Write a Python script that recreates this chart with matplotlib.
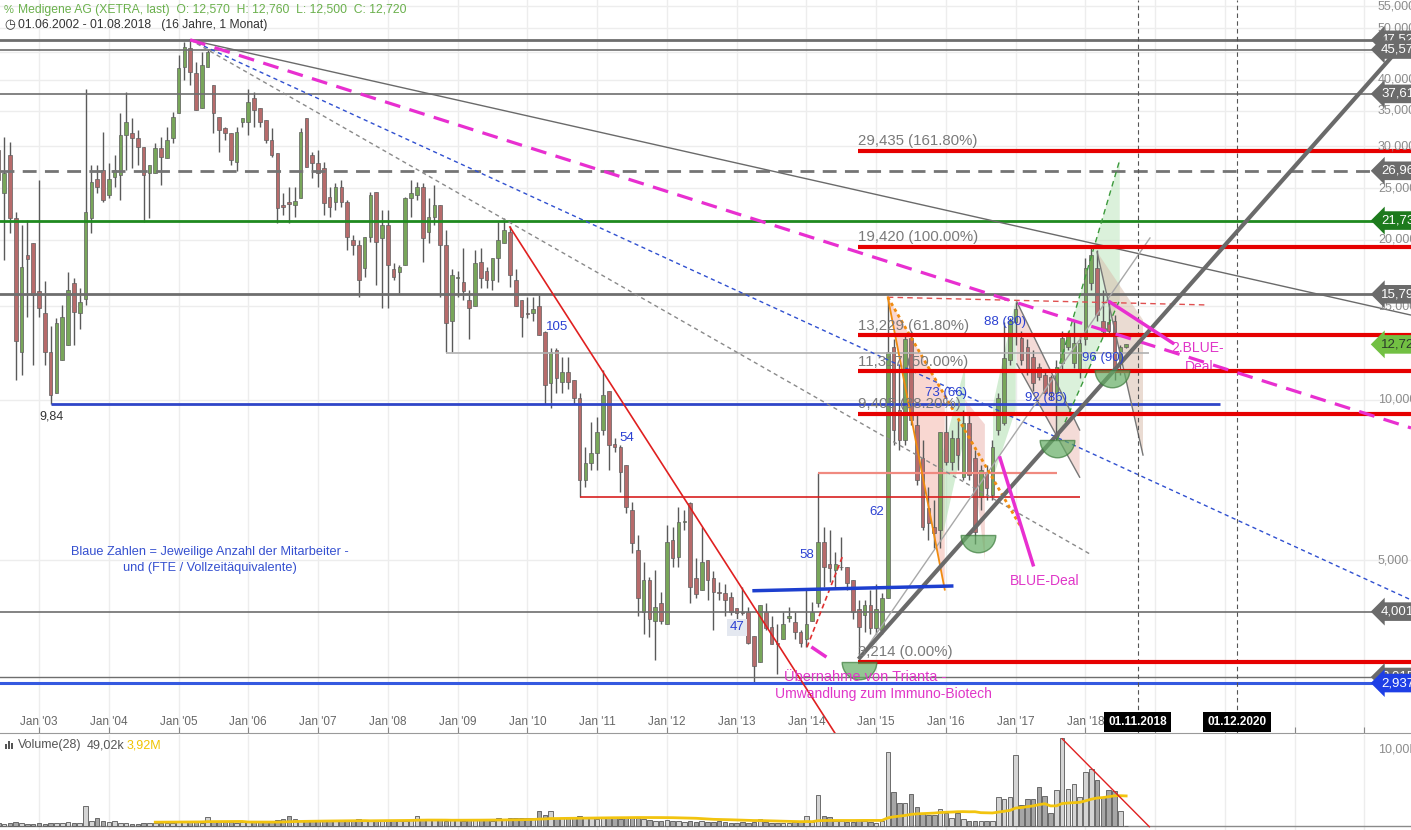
#!/usr/bin/env python3
"""
Medigene AG (XETRA) monthly candles Jun 2002 - Aug 2018 with trend lines,
Fibonacci levels, annotations and a volume panel. Saves out.png.
"""

import numpy as np
import pandas as pd
import matplotlib
matplotlib.use("Agg")
import matplotlib.pyplot as plt
import matplotlib.transforms as mtransforms
from matplotlib.path import Path
from matplotlib.patches import Polygon, Rectangle

plt.rcParams["font.family"] = ["Liberation Sans", "DejaVu Sans"]

# -------------------------
# Data (monthly bars, index 0 = Jun 2002, 194 = Aug 2018)
# -------------------------
opens = [
    29.5, 24.5, 28.9, 22.0, 12.3, 18.7, 19.7, 16.0, 14.6, 12.3,
    10.3, 11.9, 12.7, 16.6, 14.6, 15.5, 22.0, 26.0, 27.1, 24.3,
    26.3, 26.5, 31.5, 31.8, 31.1, 29.9, 26.7, 26.7, 29.8, 28.5,
    31.1, 34.65, 42.3, 45.9, 41.2, 35.4, 42.3, 39.05, 34.05, 32.5,
    31.8, 28.05, 33.3, 33.3, 36.9, 35.4, 33.6, 30.8, 29.1, 23.3,
    23.6, 23.3, 24.0, 33.9, 28.9, 27.9, 27.3, 24.1, 23.6, 25.1,
    23.6, 20.0, 19.55, 17.7, 20.25, 24.6, 20.2, 21.35, 17.6, 17.4,
    17.95, 24.0, 24.3, 25.1, 20.7, 22.1, 23.3, 19.55, 14.1, 16.95,
    16.65, 15.4, 15.0, 18.15, 17.45, 16.8, 18.45, 19.7, 20.7, 16.8,
    15.4, 14.6, 14.6, 15.0, 13.4, 10.75, 12.4, 10.8, 11.3, 10.9,
    10.1, 7.07, 7.6, 7.95, 8.78, 10.4, 8.26, 8.15, 7.55, 6.21,
    5.23, 3.99, 4.59, 3.84, 4.16, 3.79, 5.46, 5.07, 5.9, 6.41,
    4.63, 4.4, 5.01, 4.63, 4.36, 4.34, 4.26, 4.07, 4.0, 4.0,
    3.6, 3.22, 3.99, 3.75, 3.5, 3.55, 3.9, 3.82, 3.66, 3.55,
    3.84, 4.16, 5.41, 4.91, 4.8, 4.86, 4.86, 4.59, 4.04, 3.95,
    4.12, 3.73, 3.7, 4.25, 12.6, 9.58, 8.41, 13.1, 8.98, 7.78,
    6.27, 5.78, 5.7, 8.7, 7.65, 8.48, 7.16, 9.05, 7.78, 6.56,
    7.32, 6.62, 8.78, 9.05, 11.9, 14.0, 13.1, 12.6, 12.05, 11.55,
    11.15, 11.05, 10.3, 11.75, 12.6, 11.75, 11.4, 13.0, 16.6, 17.7,
    14.1, 14.0, 14.1, 11.8, 12.57,
]
highs = [
    38.7, 31.2, 30.5, 22.6, 21.3, 21.8, 19.7, 25.9, 16.7, 13.8,
    14.25, 15.1, 17.4, 16.95, 16.25, 38.4, 27.7, 27.7, 31.9, 27.9,
    28.9, 34.65, 37.9, 33.9, 32.2, 29.9, 27.7, 30.4, 31.2, 32.6,
    34.8, 44.55, 47.1, 47.53, 43.2, 45.1, 45.5, 39.05, 34.05, 32.6,
    31.8, 32.6, 33.9, 38.4, 37.9, 35.4, 33.6, 32.5, 29.1, 24.5,
    25.1, 25.1, 32.5, 33.9, 29.3, 29.5, 28.05, 25.1, 25.55, 25.9,
    23.8, 20.45, 20.0, 20.25, 24.6, 24.6, 22.8, 22.8, 18.1, 17.95,
    24.1, 25.9, 25.7, 25.55, 24.0, 25.35, 23.3, 20.9, 17.6, 17.45,
    19.3, 16.1, 19.1, 19.3, 17.75, 18.45, 21.6, 22.0, 21.2, 17.6,
    15.4, 15.6, 15.6, 15.75, 13.5, 12.5, 12.5, 12.05, 12.05, 10.9,
    10.3, 8.15, 9.1, 9.3, 11.4, 10.4, 8.48, 8.23, 7.55, 6.43,
    5.58, 4.97, 4.65, 4.8, 4.36, 5.83, 5.78, 6.29, 6.21, 6.43,
    5.05, 5.78, 5.01, 4.76, 4.55, 4.5, 4.36, 4.07, 4.46, 4.09,
    3.6, 4.12, 4.16, 3.92, 3.79, 3.99, 4.09, 3.99, 3.7, 4.4,
    4.18, 7.28, 5.78, 5.7, 5.18, 5.53, 4.86, 4.59, 4.21, 4.21,
    4.4, 4.5, 4.34, 15.6, 13.0, 11.65, 13.25, 13.5, 9.38, 8.41,
    6.86, 6.49, 8.7, 9.38, 8.78, 9.17, 9.58, 9.38, 8.05, 7.55,
    7.55, 8.41, 10.3, 14.0, 14.25, 15.3, 13.5, 13.0, 12.4, 11.75,
    11.4, 11.15, 11.9, 13.5, 13.5, 14.1, 13.25, 18.5, 19.42, 19.1,
    16.1, 15.3, 14.45, 12.7, 12.76,
]
lows = [
    18.3, 18.3, 20.6, 10.9, 11.15, 14.3, 11.65, 14.3, 11.65, 9.84,
    10.3, 11.9, 12.7, 12.7, 13.6, 15.1, 20.6, 24.5, 23.6, 24.0,
    25.1, 23.8, 27.1, 27.3, 27.7, 21.6, 22.0, 26.7, 25.35, 28.5,
    30.4, 34.65, 39.9, 39.05, 35.1, 35.4, 42.3, 31.8, 29.3, 30.8,
    27.7, 26.9, 32.6, 31.5, 32.6, 32.6, 30.4, 28.65, 21.55, 22.3,
    21.55, 22.1, 24.0, 27.45, 26.1, 25.1, 22.3, 22.1, 22.8, 23.1,
    19.1, 18.7, 15.6, 17.05, 19.8, 16.45, 14.9, 14.9, 16.8, 15.9,
    17.95, 22.1, 23.8, 18.15, 19.7, 21.35, 15.6, 12.3, 12.3, 15.6,
    15.4, 13.0, 15.0, 16.25, 16.25, 16.1, 16.65, 19.7, 16.3, 15.0,
    13.15, 14.25, 14.1, 13.25, 9.84, 9.65, 10.3, 10.3, 10.5, 9.84,
    6.56, 6.86, 7.38, 7.38, 8.6, 7.38, 7.98, 6.71, 6.13, 5.16,
    3.92, 3.63, 3.59, 3.25, 3.79, 3.79, 4.86, 4.86, 5.7, 4.16,
    4.25, 4.4, 4.21, 3.7, 4.21, 3.92, 3.95, 3.87, 3.95, 3.48,
    2.937, 3.22, 3.7, 3.48, 3.06, 3.55, 3.82, 3.55, 3.44, 3.44,
    3.84, 4.09, 4.46, 4.55, 4.46, 4.8, 4.4, 3.87, 3.214, 3.66,
    3.63, 3.63, 3.63, 4.25, 8.23, 8.05, 8.23, 8.98, 6.92, 5.7,
    5.46, 5.27, 5.27, 7.55, 7.38, 7.38, 7.07, 7.07, 5.35, 6.21,
    6.49, 6.49, 8.6, 8.98, 11.65, 12.7, 11.65, 11.15, 10.4, 10.9,
    10.2, 10.0, 8.41, 11.4, 12.4, 11.5, 11.0, 12.7, 16.1, 14.1,
    13.25, 13.25, 10.9, 11.15, 12.50,
]
closes = [
    25.9, 26.7, 22.0, 12.9, 17.8, 18.4, 15.75, 14.9, 12.3, 10.2,
    13.95, 14.3, 16.1, 14.65, 15.3, 22.6, 25.7, 25.1, 23.8, 26.0,
    27.1, 31.5, 33.3, 31.1, 29.9, 26.5, 27.7, 29.8, 28.65, 30.8,
    34.05, 42.1, 46.1, 41.3, 35.1, 42.65, 45.1, 34.65, 32.2, 31.8,
    28.3, 31.9, 33.9, 36.3, 35.1, 33.3, 30.8, 28.9, 23.0, 23.1,
    23.4, 23.7, 31.9, 27.45, 27.9, 26.7, 23.5, 23.1, 25.1, 23.6,
    20.25, 19.55, 16.8, 20.25, 24.3, 19.8, 21.35, 17.95, 17.05, 17.75,
    24.0, 24.5, 25.1, 20.2, 22.1, 23.3, 19.55, 13.95, 17.2, 17.05,
    16.0, 14.9, 18.1, 16.95, 16.8, 18.45, 20.0, 20.9, 17.2, 15.0,
    14.3, 14.5, 14.8, 13.25, 10.65, 12.3, 11.0, 11.3, 10.8, 10.1,
    7.07, 7.6, 7.95, 8.7, 10.2, 8.23, 8.15, 7.32, 6.29, 5.39,
    4.25, 4.59, 3.87, 4.09, 3.84, 5.41, 5.05, 5.9, 5.92, 4.46,
    4.31, 4.97, 4.59, 4.36, 4.34, 4.21, 4.0, 3.98, 3.98, 3.5,
    3.16, 4.12, 3.73, 3.48, 3.48, 3.79, 3.92, 3.66, 3.5, 3.79,
    4.0, 5.41, 4.86, 4.84, 4.91, 4.86, 4.53, 4.0, 3.75, 4.12,
    3.73, 4.04, 4.25, 12.3, 8.78, 8.41, 13.0, 9.17, 7.07, 5.78,
    5.88, 5.63, 8.7, 7.65, 8.48, 7.88, 9.05, 7.22, 5.65, 7.38,
    6.83, 8.15, 10.1, 12.0, 14.1, 14.8, 11.9, 11.4, 10.75, 11.05,
    10.3, 10.3, 11.55, 13.1, 13.25, 12.8, 12.8, 17.7, 18.7, 14.45,
    13.5, 13.5, 11.3, 12.55, 12.72,
]
# monthly volume in millions
volumes = [
    0.4, 0.3, 0.35, 0.5, 0.45, 0.3, 0.3, 0.35, 0.3, 0.45, 0.4, 0.35, 0.5, 0.35, 0.4,
    2.6,
    0.6, 1.0, 0.6, 0.5, 0.7, 0.4, 0.35, 0.3, 0.3, 0.35, 0.4, 0.35, 0.45, 0.4,
    0.45, 0.55, 0.6, 0.55, 0.5, 0.45, 1.2, 0.6, 0.5, 0.55, 0.5, 0.45, 0.5, 0.6, 0.5, 0.55, 0.6, 0.7, 0.8, 0.9,
    1.3, 0.9, 0.7, 0.8, 0.7, 0.6, 0.7, 0.65, 0.6, 0.7, 0.8, 0.75, 0.9, 0.7, 0.6, 0.7, 0.75, 0.8, 0.7, 0.65,
    0.7, 0.75, 1.3, 0.9, 0.8, 0.75, 0.8, 0.7, 0.8, 0.9, 0.7, 0.75, 0.9, 0.85, 0.75, 0.7, 1.0, 0.85, 1.1, 1.1,
    1.1, 1.1, 1.1, 2.0, 1.5, 2.0, 1.0, 1.1, 1.0, 1.2, 1.3, 1.1, 1.0, 0.9, 1.2, 1.0, 1.1, 0.9, 1.0, 1.2,
    1.0, 0.9, 0.8, 0.7, 0.7, 0.8, 0.7, 0.6, 0.5, 0.7, 0.5, 0.6, 0.5, 0.5, 0.6, 0.5, 0.4, 0.4, 0.5, 0.4,
    0.5, 0.9, 0.5, 0.45, 0.4, 0.4, 0.45, 0.5, 0.6, 1.3, 0.5, 4.0, 1.3, 1.2, 0.6, 0.7, 0.5, 0.55, 0.8, 0.6,
    0.5, 0.45, 0.6,
    9.7, 4.4, 3.0, 3.0, 4.2, 2.5, 1.7, 1.5, 1.5, 2.2, 1.7, 1.1, 1.7, 0.9, 0.7, 0.7, 0.6, 0.7, 0.7,
    3.8, 3.5, 3.8, 9.3, 2.7, 3.5, 3.5, 5.1, 3.9, 1.7, 4.7, 11.5, 4.8, 5.5, 3.8, 7.1, 7.4, 6.0,
    3.8, 4.7, 4.6, 2.0, 0.049,
]

jan_pos = [7 + 12 * k for k in range(20)]
jan_labels = ["Jan '03", "Jan '04", "Jan '05", "Jan '06", "Jan '07", "Jan '08", "Jan '09", "Jan '10",
              "Jan '11", "Jan '12", "Jan '13", "Jan '14", "Jan '15", "Jan '16", "Jan '17", "Jan '18"]
price_ticks = [5, 10, 15, 20, 25, 30, 35, 40, 45, 50, 55]
price_tick_labels = ["5,000", "10,000", "15,000", "20,000", "25,000", "30,000",
                     "35,000", "40,000", "45,000", "50,000", "55,000"]

# horizontal levels
gray_levels = [47.526, 45.571, 37.614, 15.799, 4.001, 3.015]
gray_widths = [2.0, 1.2, 1.2, 2.0, 1.2, 1.0]
dashed_level = 26.964
green_level = 21.738
blue_low_level = 2.937
fib_levels = [29.435, 19.42, 13.229, 11.317, 9.405, 3.214]
fib_labels = ["29,435 (161.80%)", "19,420 (100.00%)", "13,229 (61.80%)",
              "11,317 (50.00%)", "9,405 (38.20%)", "3,214 (0.00%)"]
fib_start = 147.9

# right edge value tags
tag_values = [47.526, 45.571, 37.614, 26.964, 21.738, 15.799, 12.72, 4.001, 3.015, 2.937]
tag_texts = ["47,526", "45,571", "37,614", "26,964", "21,738", "15,799", "12,720", "4,001", "3,015", "2,937"]
tag_colors = ["#6b6b6b", "#6b6b6b", "#6b6b6b", "#6b6b6b", "#1d7a1d", "#6b6b6b", "#72c043",
              "#6b6b6b", "#6b6b6b", "#1e3fe6"]
tag_text_colors = ["white", "white", "white", "white", "white", "white", "#2b3a2b",
                   "white", "white", "white"]

# partial horizontal segments: (value, x0, x1)
blue_984 = (9.84, 9, 210.1)
gray_1226 = (12.26, 77, 198)
red_657 = (6.57, 100, 186)
salmon_729 = (7.29, 141, 182.1)

# trend lines (x pairs in bar index, y pairs in price)
magenta_dash = ([33, 243], [47.53, 8.86])
gray_down = ([33, 243], [47.53, 14.44])
blue_dot = ([33, 243], [47.53, 4.21])
gray_dash = ([33, 188.1], [47.53, 5.11])
red_down = ([88, 143.9], [21.14, 2.366])
thick_up = ([148.2, 241.5], [3.28, 46.5])
thin_up = ([148.2, 198.1], [3.28, 20.16])
blue_flat = ([130, 164], [4.38, 4.47])
red_dash_top = ([153, 207.5], [15.6, 15.09])
red_dash_small = ([139.1, 145.3], [3.43, 5.11])
orange_solid = ([153, 162.8], [15.6, 4.40])
orange_dot = ([153, 175.7], [15.6, 5.82])
pink_blue2 = ([191.2, 202.0], [15.28, 12.80])
pink_blue1 = ([172.3, 178.0], [7.78, 4.90])
pink_trianta = ([140.1, 142.2], [3.42, 3.30])
pink_ch_a = ([175.2, 186.0], [15.29, 8.78])
pink_ch_b = ([175.2, 186.0], [11.69, 7.16])
tan_edge = ([189.0, 196.9], [18.98, 7.88])
green_a = ([182.1, 192.9], [11.24, 28.26])
green_b = ([182.1, 192.9], [8.41, 15.42])

# shaded channels
fill_orange = [(153, 15.6), (162.8, 10.22), (162.8, 4.40)]
fill_green16 = [(162, 5.29), (162.5, 8.0), (166.3, 11.6), (166.3, 8.6)]
fill_pink16 = [(166.3, 10.0), (169.7, 5.0), (169.7, 9.0)]
fill_green17 = [(171.1, 7.13), (171.1, 9.79), (175.0, 15.42), (175.0, 9.58)]
fill_pink17 = [(175.2, 15.29), (186.0, 8.78), (186.0, 7.16), (175.2, 11.69)]
fill_green18 = [(182.1, 8.41), (182.1, 11.24), (192.9, 28.26), (192.9, 15.42)]
fill_tan18 = [(189.0, 18.98), (196.9, 14.14), (196.9, 7.88)]

# half-circle low markers
bowl_x = [148, 168.5, 182.1, 191.6]
bowl_y = [3.214, 5.58, 8.41, 11.4]

# staff numbers
staff_x = [96.1, 108.1, 127.1, 139.1, 151.1, 163.0, 173.1, 180.2, 190.0]
staff_y = [13.72, 8.48, 3.74, 5.11, 6.16, 10.31, 14.02, 10.09, 11.99]
staff_txt = ["105", "54", "47", "58", "62", "73 (66)", "88 (80)", "92 (86)", "96 (90)"]

future_pos = [196.0, 213.1]
future_labels = ["01.11.2018", "01.12.2020"]
vol_trend = ([183, 198], [11.4, -0.1])

# -------------------------
# Figure
# -------------------------
W, H = 1411, 830
fig = plt.figure(figsize=(W / 100, H / 100), dpi=100)
ax = fig.add_axes([0, 97 / H, 1, 733 / H])
axv = fig.add_axes([0, 0, 1, 95 / H])

x = np.arange(len(closes))
o, hi, lo, c = map(np.array, (opens, highs, lows, closes))
up = c >= o

ax.set_yscale("log")
ax.set_xlim(0.29, 243.0)
ax.set_ylim(2.366, 56.47)
axv.set_xlim(0.29, 243.0)
axv.set_ylim(-0.52, 11.9)

for a in (ax, axv):
    for s in a.spines.values():
        s.set_visible(False)
    a.set_yticks([])
    a.set_yticks([], minor=True)
ax.spines["bottom"].set_visible(True)
ax.spines["bottom"].set_color("#9a9a9a")
ax.set_xticks([p for p in jan_pos if p < 243])
ax.tick_params(axis="x", direction="in", length=4, color="#888888", labelbottom=False)
axv.set_xticks([])

# grid
for yv in price_ticks:
    ax.axhline(yv, color="#ededed", lw=1, zorder=0)
for xv in jan_pos:
    ax.axvline(xv, color="#ededed", lw=1, zorder=0)
    axv.axvline(xv, color="#ededed", lw=1, zorder=0)

# shaded channels
for poly, col, alp in [(fill_orange, "#f3a89a", 0.45), (fill_green16, "#a8dca8", 0.5),
                       (fill_pink16, "#e8a8a0", 0.45), (fill_green17, "#a8dca8", 0.5),
                       (fill_pink17, "#e8b0a8", 0.45), (fill_green18, "#b8e4b8", 0.5),
                       (fill_tan18, "#d9bfae", 0.55)]:
    ax.add_patch(Polygon(poly, closed=True, fc=col, ec="none", alpha=alp, zorder=1))

# candles
ax.vlines(x, lo, hi, color="#5a5a5a", lw=1, zorder=3)
ax.bar(x, np.abs(c - o), bottom=np.minimum(o, c), width=0.62,
       color=np.where(up, "#78a65a", "#b76b6b"), edgecolor="#5f5f5f", linewidth=0.5, zorder=4)

# horizontal levels
for v, w in zip(gray_levels, gray_widths):
    ax.axhline(v, color="#6e6e6e", lw=w, zorder=5)
ax.axhline(dashed_level, color="#747474", lw=2, ls=(0, (5, 3)), zorder=5)
ax.axhline(green_level, color="#1f8a1f", lw=2, zorder=5)
ax.axhline(blue_low_level, color="#3559e0", lw=2.2, zorder=5)
ax.hlines(blue_984[0], blue_984[1], blue_984[2], color="#2f45c8", lw=2, zorder=5)
ax.hlines(gray_1226[0], gray_1226[1], gray_1226[2], color="#b0b0b0", lw=1.2, zorder=5)
ax.hlines(red_657[0], red_657[1], red_657[2], color="#d82020", lw=1.2, zorder=5)
ax.hlines(salmon_729[0], salmon_729[1], salmon_729[2], color="#f08a80", lw=1.6, zorder=5)
ax.hlines(fib_levels, fib_start, 243, color="#e60000", lw=3, zorder=6)
for lv, lab in zip(fib_levels, fib_labels):
    ax.annotate(lab, (fib_start, lv), xytext=(0, 2), textcoords="offset points",
                ha="left", va="bottom", fontsize=10.8, color="#7a7a7a", zorder=7)

# trend lines
ax.plot(*gray_down, color="#6a6a6a", lw=1, zorder=5)
ax.plot(*blue_dot, color="#3050d0", lw=1, ls=(0, (3, 2.5)), zorder=5)
ax.plot(*gray_dash, color="#8a8a8a", lw=1, ls=(0, (3, 2.5)), zorder=5)
ax.plot(*magenta_dash, color="#e82fd0", lw=2.3, ls=(0, (5, 3)), zorder=6)
ax.plot(*red_down, color="#e02020", lw=1.2, zorder=5)
ax.plot(*thin_up, color="#a8a8a8", lw=1, zorder=5)
ax.plot(*thick_up, color="#6a6a6a", lw=3, zorder=6)
ax.plot(*blue_flat, color="#1d3fcf", lw=2.5, zorder=6)
ax.plot(*red_dash_top, color="#e05050", lw=1, ls=(0, (4, 3)), zorder=5)
ax.plot(*red_dash_small, color="#e03030", lw=1.2, ls=(0, (3, 2)), zorder=5)
ax.plot(*orange_solid, color="#f08c10", lw=1.3, zorder=5)
ax.plot(*orange_dot, color="#f08c10", lw=2, ls=(0, (1.2, 1.2)), zorder=5)
for seg in (pink_ch_a, pink_ch_b, tan_edge):
    ax.plot(*seg, color="#777777", lw=1, zorder=5)
for seg in (green_a, green_b):
    ax.plot(*seg, color="#3c9a3c", lw=1, ls=(0, (4, 3)), zorder=5)
for seg in (pink_blue2, pink_blue1, pink_trianta):
    ax.plot(*seg, color="#e82fd0", lw=2.5, zorder=7)

# half-circle low markers
bowl = Path.wedge(180, 360)
ax.scatter(bowl_x, bowl_y, marker=bowl, s=620, fc="#64ad64", ec="#3b7b3b",
           lw=1, alpha=0.7, zorder=7)

# blue staff numbers
for xs, ys, t in zip(staff_x, staff_y, staff_txt):
    box = dict(boxstyle="square,pad=0.2", fc="#e4e8f0", ec="none") if t == "47" else None
    ax.text(xs, ys, t, ha="center", va="center", fontsize=9.5, color="#2b40d2",
            bbox=box, zorder=8)
ax.text(36.4, 5.18, "Blaue Zahlen = Jeweilige Anzahl der Mitarbeiter -",
        ha="center", va="center", fontsize=9.2, color="#3550d0", zorder=8)
ax.text(36.4, 4.83, "und (FTE / Vollzeitäquivalente)",
        ha="center", va="center", fontsize=9.2, color="#3550d0", zorder=8)
ax.text(9.2, 9.29, "9,84", ha="center", va="center", fontsize=9, color="#333333", zorder=8)

# magenta annotations
mag = "#e036c8"
ax.text(149.1, 3.015, "Übernahme von Trianta -", ha="center", va="center",
        fontsize=10.5, color=mag, zorder=8)
ax.text(152.3, 2.80, "Umwandlung zum Immuno-Biotech", ha="center", va="center",
        fontsize=10, color=mag, zorder=8)
ax.text(180.0, 4.57, "BLUE-Deal", ha="center", va="center", fontsize=10, color=mag, zorder=8)
ax.text(206.3, 12.52, "2.BLUE-", ha="center", va="center", fontsize=10, color=mag, zorder=5.5)
ax.text(206.6, 11.53, "Deal", ha="center", va="center", fontsize=10, color=mag, zorder=5.5)

# future date markers
trx = mtransforms.blended_transform_factory(ax.transData, ax.transAxes)
for p, lab in zip(future_pos, future_labels):
    ax.axvline(p, color="#555555", lw=0.8, ls=(0, (4, 3)), zorder=5)
    ax.text(p, 11 / 733, lab, transform=trx, ha="center", va="center", fontsize=8.5,
            fontweight="bold", color="white", zorder=10,
            bbox=dict(boxstyle="square,pad=0.35", fc="black", ec="none"))
for p, lab in zip(jan_pos, jan_labels):
    ax.text(p, 11 / 733, lab, transform=trx, ha="center", va="center", fontsize=8.5,
            color="#666666", zorder=9)

# right axis labels and tags
tr = mtransforms.blended_transform_factory(ax.transAxes, ax.transData)
for v, lab in zip(price_ticks, price_tick_labels):
    ax.text(1378 / W, v, lab, transform=tr, ha="left", va="center", fontsize=9,
            color="#8c8c8c", zorder=8)
for v, t, fc, tc in zip(tag_values, tag_texts, tag_colors, tag_text_colors):
    ax.text(1381 / W, v, t, transform=tr, ha="left", va="center", fontsize=9.5,
            color=tc, zorder=11, clip_on=False,
            bbox=dict(boxstyle="larrow,pad=0.25", fc=fc, ec="none"))

# volume panel
axv.bar(x, volumes, width=0.78, color=np.where(up, "#d4d4d4", "#a6a6a6"),
        edgecolor="#585858", linewidth=0.6, zorder=3)
ma = pd.Series(volumes).rolling(28).mean()
axv.plot(x, ma, color="#f2c40f", lw=2, zorder=4)
axv.axhline(0, color="#8a8a8a", lw=1, zorder=2)
axv.plot(*vol_trend, color="#e02020", lw=1, zorder=5)
trv = mtransforms.blended_transform_factory(axv.transAxes, axv.transData)
axv.text(1378 / W, 10, "10,00M", transform=trv, ha="left", va="center", fontsize=9,
         color="#8c8c8c")

# header texts
def ftxt(px, py, s, **kw):
    fig.text(px / W, 1 - py / H, s, va="center", ha="left", **kw)

ftxt(18, 10, "Medigene AG (XETRA, last)  O: 12,570  H: 12,760  L: 12,500  C: 12,720",
     fontsize=8.7, color="#6ab04c")
ftxt(4, 10, "%", fontsize=8, color="#6ab04c")
ftxt(4, 25, "◷", fontsize=9, color="#333333", family=["DejaVu Sans"])
ftxt(18, 25, "01.06.2002 - 01.08.2018   (16 Jahre, 1 Monat)", fontsize=8.7, color="#333333")
for bx, bh in [(5, 5), (8, 8), (11, 6)]:
    fig.add_artist(Rectangle((bx / W, 1 - 749 / H), 2 / W, bh / H, transform=fig.transFigure,
                             fc="#555555", ec="none"))
ftxt(18, 745, "Volume(28)", fontsize=9, color="#555555")
ftxt(87, 745, "49,02k", fontsize=9, color="#555555")
ftxt(127, 745, "3,92M", fontsize=9, color="#f0c400")

fig.savefig("out.png", dpi=100)
